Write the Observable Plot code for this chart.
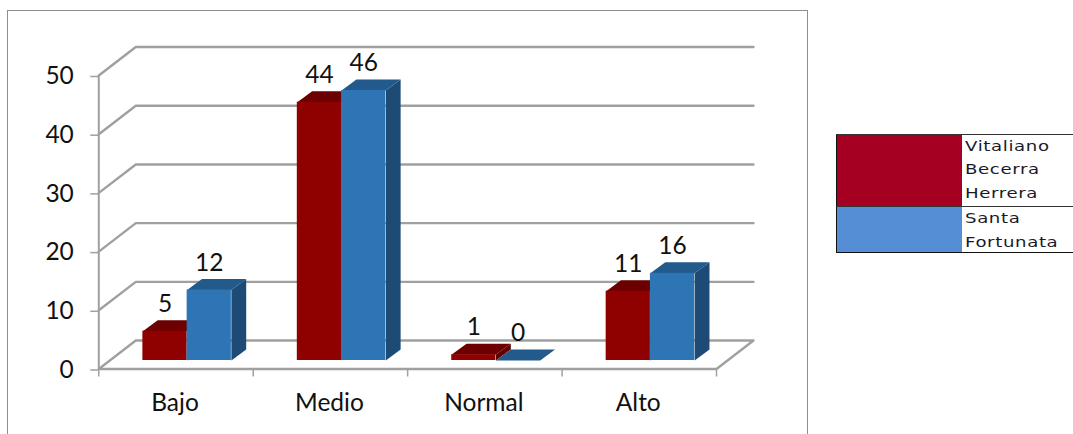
<!DOCTYPE html>
<html>
<head>
<meta charset="utf-8">
<script src="https://cdn.jsdelivr.net/npm/d3@7"></script>
<script src="https://cdn.jsdelivr.net/npm/@observablehq/plot@0.6"></script>
<style>
html,body{margin:0;padding:0;background:#fff;width:1073px;height:434px;overflow:hidden}
#wrap{position:relative;width:1073px;height:434px;overflow:hidden}
#frame{position:absolute;left:7px;top:10px;width:799px;height:440px;border:1.5px solid #8e8e8e;box-sizing:content-box}
#chart{position:absolute;left:0;top:0}
#chart svg{display:block;background:transparent}
#legend{position:absolute;left:836px;top:134px;width:237px;font:14.5px/23.6px "DejaVu Sans",sans-serif;color:#1a1a2a;letter-spacing:.5px;overflow:hidden}
.row{display:flex;border-top:1.5px solid #333;box-sizing:border-box;overflow:hidden}
.row:last-child{border-bottom:1.5px solid #111}
.row:last-child .lb{margin-top:0}
.sw{width:125px;border-left:1.5px solid #111;flex:none}
.lb{padding-left:3px;margin-top:-.5px}
.lb div{transform:scaleX(1.25);transform-origin:left center;white-space:nowrap}
</style>
</head>
<body>
<div id="wrap">
<div id="frame"></div>
<div id="chart"></div>
<div id="legend"></div>
</div>
<script>
const categories = ["Bajo", "Medio", "Normal", "Alto"];
const seriesNames = ["Vitaliano Becerra Herrera", "Santa Fortunata"];
const vitaliano = [5, 44, 1, 11.8];
const fortunata = [12, 46, 0, 14.85];
const vitalianoLabels = [5, 44, 1, 11];
const fortunataLabels = [12, 46, 0, 16];
const yTicks = [0, 10, 20, 30, 40, 50];
const legendLines = [["Vitaliano", "Becerra", "Herrera"], ["Santa", "Fortunata"]];
const legendColors = ["#a50021", "#558ed5"];
const legendHeights = [72, 47];

// Chart-space depth of the 3-D box, in scale units
const wallDx = 0.2395, wallDy = 4.85;
const barDx = 0.096, barDy = 1.87, barBase = 1.45;
const barStart = 0.2855, barW = 0.2865;

const palette = [
  {front: "#8f0000", top: "#6c0000", side: "#640000"},
  {front: "#2e75b6", top: "#225a8c", side: "#1e4a76"}
];

const bars = [];
[vitaliano, fortunata].forEach((vals, s) => {
  vals.forEach((v, i) => {
    const x1 = i + barStart + s * barW, x2 = x1 + barW, y0 = barBase, y1 = barBase + v;
    bars.push({s, i, x1, x2, y0, y1, v,
      label: (s === 0 ? vitalianoLabels : fortunataLabels)[i]});
  });
});

const poly = (rows, key, pts) => rows.flatMap((b, n) => pts(b).map(([x, y]) => ({x, y, id: key + n})));
const sidePts = b => [[b.x2, b.y0], [b.x2 + barDx, b.y0 + barDy], [b.x2 + barDx, b.y1 + barDy], [b.x2, b.y1]];
const topPts = b => [[b.x1, b.y1], [b.x1 + barDx, b.y1 + barDy], [b.x2 + barDx, b.y1 + barDy], [b.x2, b.y1]];

const barMarks = s => {
  const rows = bars.filter(b => b.s === s);
  const p = palette[s];
  return rows.map(b => [
    Plot.line(poly([b], "side", sidePts), {x: "x", y: "y", z: "id", fill: p.side, stroke: "none"}),
    Plot.line(poly([b], "top", topPts), {x: "x", y: "y", z: "id", fill: p.top, stroke: "none"}),
    Plot.rect([b], {x1: "x1", x2: "x2", y1: "y0", y2: "y1", fill: p.front})
  ]);
};

const n = categories.length;
const gridLines = yTicks.flatMap(t => {
  const pts = [[0, t], [wallDx, t + wallDy], [n + wallDx, t + wallDy]];
  if (t === 0) pts.push([n, 0]);
  return pts.map(([x, y]) => ({x, y, id: t}));
});

const gray = "#a0a0a0";
const plot = Plot.plot({
  width: 1073, height: 434,
  marginLeft: 98.3, marginRight: 357, marginTop: 75, marginBottom: 65.5,
  style: {background: "transparent", fontFamily: "Lato, sans-serif", overflow: "visible"},
  x: {domain: [0, n], axis: null},
  y: {domain: [0, 50], axis: null},
  marks: [
    Plot.line(gridLines, {x: "x", y: "y", z: "id", stroke: gray, strokeWidth: 2.4}),
    Plot.ruleX([0], {y1: 0, y2: 50, stroke: gray, strokeWidth: 2}),
    Plot.ruleY([0], {x1: 0, x2: n, stroke: gray, strokeWidth: 2.4}),
    Plot.axisY({ticks: yTicks, tickSize: 8, tickPadding: 17, fontSize: 24.5, stroke: gray, strokeWidth: 1.5, color: "#111", label: null, anchor: "left", dy: 1}),
    Plot.axisX({ticks: d3.range(n + 1), tickSize: 8, tickFormat: () => "", stroke: gray, strokeWidth: 1.5, label: null, anchor: "bottom"}),
    Plot.text(categories, {x: (d, i) => i + 0.5, y: 0, text: d => d, dy: 34.5, dx: -1, fontSize: 24.5, fill: "#111", textAnchor: "middle"}),
    barMarks(0),
    barMarks(1),
    Plot.text(bars, {x: d => (d.x1 + d.x2) / 2, y: "y1", text: "label", dy: -27, fontSize: 24.5, fill: "#111", textAnchor: "middle"})
  ]
});
document.getElementById("chart").appendChild(plot);

const legend = d3.select("#legend");
seriesNames.forEach((name, i) => {
  const row = legend.append("div").attr("class", "row").style("height", legendHeights[i] + "px");
  row.append("div").attr("class", "sw").style("background", legendColors[i]);
  const lb = row.append("div").attr("class", "lb");
  legendLines[i].forEach(l => lb.append("div").text(l));
});
</script>
</body>
</html>
